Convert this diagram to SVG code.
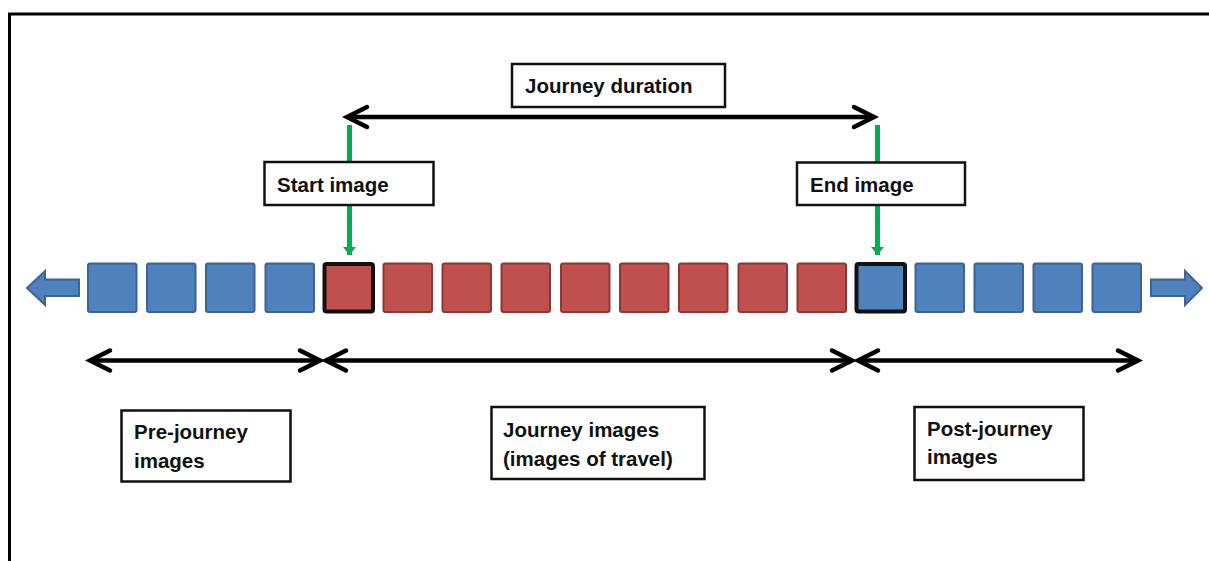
<svg xmlns="http://www.w3.org/2000/svg" width="1209" height="561" viewBox="0 0 1209 561">
<style>
.blue{fill:#4F81BD;stroke:#3B6594;stroke-width:2}
.red{fill:#C0504D;stroke:#8C3836;stroke-width:2}
.hl{stroke:#111;stroke-width:4}
.box{fill:#fff;stroke:#111;stroke-width:2.5}
.lbl{font-family:"Liberation Sans",Arial,sans-serif;font-weight:bold;font-size:20.5px;fill:#111}
.dim{stroke:#000;stroke-width:4.5;fill:none}
.grn{stroke:#00B050;stroke-width:5;fill:none}
</style>
<defs>
<marker id="chev" markerUnits="userSpaceOnUse" markerWidth="40" markerHeight="40" viewBox="-30 -20 40 40" refX="0" refY="0" orient="auto-start-reverse">
<path d="M -20 -10 L 0 0 L -20 10" fill="none" stroke="#000" stroke-width="4.5" stroke-linecap="round" stroke-linejoin="miter"/>
</marker>
<marker id="garr" markerUnits="userSpaceOnUse" markerWidth="20" markerHeight="20" viewBox="-10 -10 20 20" refX="0" refY="0" orient="auto">
<path d="M -8 -6.5 L 0 0 L -8 6.5 Z" fill="#00B050"/>
</marker>
</defs>
<rect width="1209" height="561" fill="#fff"/>
<path d="M 9.5 561 L 9.5 14 L 1209 14" fill="none" stroke="#000" stroke-width="3"/>

<g id="connectors">
<line class="dim" x1="347" y1="117" x2="874" y2="117" marker-start="url(#chev)" marker-end="url(#chev)"/>
<line class="dim" x1="90" y1="360.5" x2="320" y2="360.5" marker-start="url(#chev)" marker-end="url(#chev)"/>
<line class="dim" x1="326" y1="360.5" x2="852" y2="360.5" marker-start="url(#chev)" marker-end="url(#chev)"/>
<line class="dim" x1="858" y1="360.5" x2="1138" y2="360.5" marker-start="url(#chev)" marker-end="url(#chev)"/>
<line class="grn" x1="349.5" y1="125" x2="349.5" y2="162"/>
<line class="grn" x1="349.5" y1="205" x2="349.5" y2="255" marker-end="url(#garr)"/>
<line class="grn" x1="877.5" y1="125" x2="877.5" y2="162"/>
<line class="grn" x1="877.5" y1="205" x2="877.5" y2="255" marker-end="url(#garr)"/>
</g>

<g id="left-arrow"><polygon class="blue" points="27,288 45,271 45,279.5 79,279.5 79,296 45,296 45,305"/></g>
<g id="right-arrow"><polygon class="blue" points="1151,279.5 1185,279.5 1185,271 1202,288 1185,305 1185,296 1151,296"/></g>

<g id="images">
<rect class="blue" x="88" y="263.5" width="48.5" height="48.5" rx="2"/>
<rect class="blue" x="147" y="263.5" width="48.5" height="48.5" rx="2"/>
<rect class="blue" x="206" y="263.5" width="48.5" height="48.5" rx="2"/>
<rect class="blue" x="265.5" y="263.5" width="48.5" height="48.5" rx="2"/>
<rect class="red hl" x="324.5" y="264" width="48.5" height="47.5" rx="2"/>
<rect class="red" x="383.5" y="263.5" width="48.5" height="48.5" rx="2"/>
<rect class="red" x="442.5" y="263.5" width="48.5" height="48.5" rx="2"/>
<rect class="red" x="501.5" y="263.5" width="48.5" height="48.5" rx="2"/>
<rect class="red" x="561" y="263.5" width="48.5" height="48.5" rx="2"/>
<rect class="red" x="620" y="263.5" width="48.5" height="48.5" rx="2"/>
<rect class="red" x="679" y="263.5" width="48.5" height="48.5" rx="2"/>
<rect class="red" x="738.5" y="263.5" width="48.5" height="48.5" rx="2"/>
<rect class="red" x="797.5" y="263.5" width="48.5" height="48.5" rx="2"/>
<rect class="blue hl" x="856.5" y="264" width="48.5" height="47.5" rx="2"/>
<rect class="blue" x="915.5" y="263.5" width="48.5" height="48.5" rx="2"/>
<rect class="blue" x="974.5" y="263.5" width="48.5" height="48.5" rx="2"/>
<rect class="blue" x="1033.5" y="263.5" width="48.5" height="48.5" rx="2"/>
<rect class="blue" x="1092.5" y="263.5" width="48.5" height="48.5" rx="2"/>
</g>

<g id="journey-duration">
<rect class="box" x="512" y="64" width="213" height="43"/>
<text class="lbl" x="525" y="92.5">Journey duration</text>
</g>
<g id="start-image">
<rect class="box" x="264.5" y="162" width="169" height="43"/>
<text class="lbl" x="277" y="191.5">Start image</text>
</g>
<g id="end-image">
<rect class="box" x="797" y="162.5" width="168" height="42.5"/>
<text class="lbl" x="810" y="191.5">End image</text>
</g>
<g id="pre-journey">
<rect class="box" x="121.5" y="410.5" width="169" height="71"/>
<text class="lbl" x="134" y="439">Pre-journey</text>
<text class="lbl" x="134" y="467.5">images</text>
</g>
<g id="journey-images">
<rect class="box" x="491.5" y="407" width="213" height="72"/>
<text class="lbl" x="503" y="437">Journey images</text>
<text class="lbl" x="503" y="466">(images of travel)</text>
</g>
<g id="post-journey">
<rect class="box" x="914.5" y="407" width="169" height="73"/>
<text class="lbl" x="927" y="435.5">Post-journey</text>
<text class="lbl" x="927" y="464">images</text>
</g>
</svg>
